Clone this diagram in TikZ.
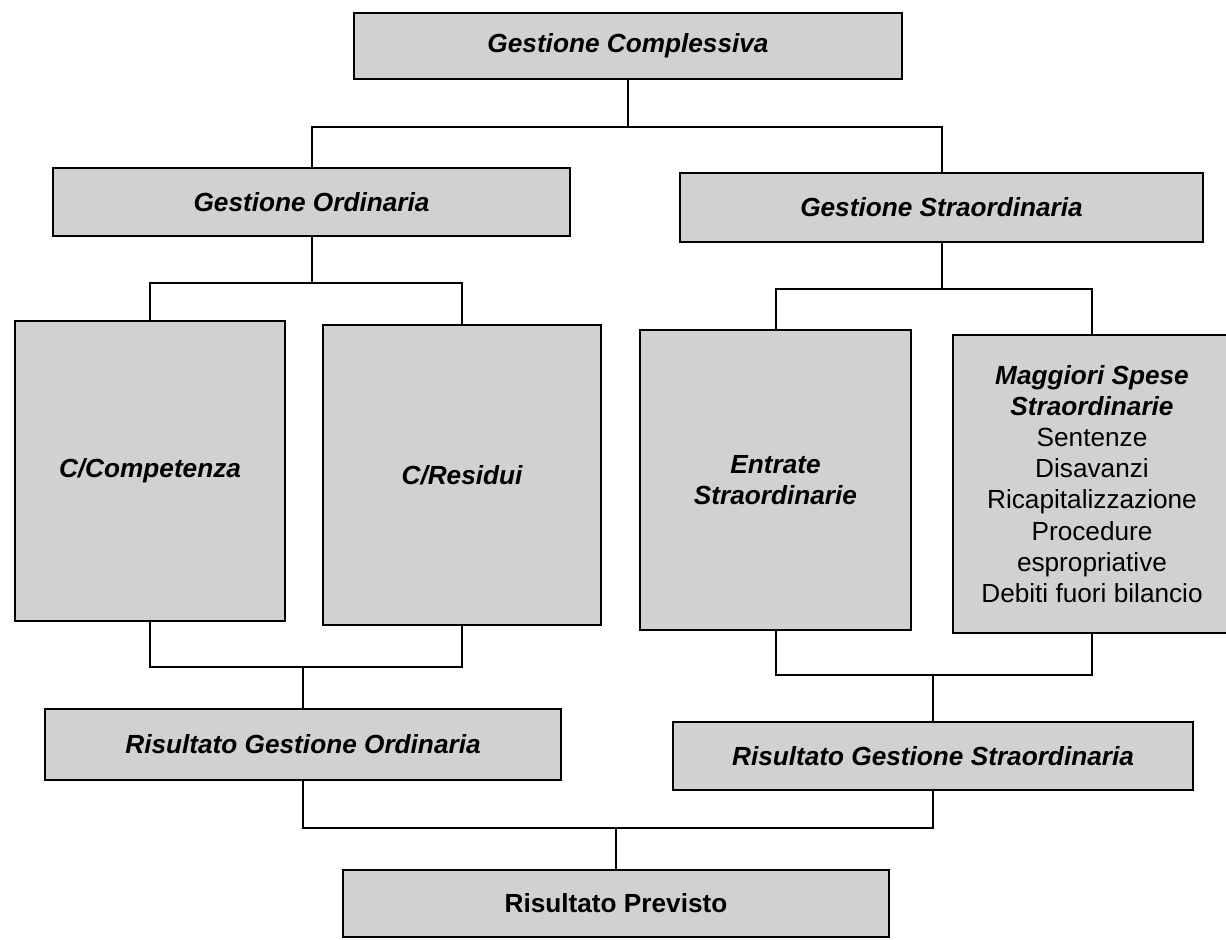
\documentclass[tikz,border=0pt]{standalone}
\usepackage{fontspec}
\setmainfont{Liberation Sans}
\begin{document}
\begin{tikzpicture}[x=0.5pt,y=-0.5pt,
  box/.style={draw=black, line width=1.4pt, fill=black!18, rectangle, inner sep=0pt,
    font=\fontsize{13.1pt}{15.6pt}\selectfont\bfseries\itshape, align=center},
  link/.style={draw=black, line width=1pt}]
\useasboundingbox (0,0) rectangle (1226,939);
\node[box, minimum width=274pt, minimum height=33pt] (gc) at (628,46) {Gestione Complessiva};
\node[box, minimum width=258.5pt, minimum height=34pt] (go) at (311.5,202) {Gestione Ordinaria};
\node[box, minimum width=261.5pt, minimum height=34.5pt] (gs) at (941.5,207.5) {Gestione Straordinaria};
\node[box, minimum width=135pt, minimum height=150pt] (cc) at (150,471) {C/Competenza};
\node[box, minimum width=139pt, minimum height=150pt] (cr) at (462,475) {C/Residui};
\node[box, minimum width=135.5pt, minimum height=150pt] (es) at (775.5,480) {Entrate\\Straordinarie};
\node[box, minimum width=139pt, minimum height=149pt] (ms) at (1092,484) {Maggiori Spese\\Straordinarie\\
  {\normalfont Sentenze}\\{\normalfont Disavanzi}\\{\normalfont Ricapitalizzazione}\\
  {\normalfont Procedure}\\{\normalfont espropriative}\\{\normalfont Debiti fuori bilancio}};
\node[box, minimum width=258pt, minimum height=35.5pt] (ro) at (303,744.5) {Risultato Gestione Ordinaria};
\node[box, minimum width=260pt, minimum height=34pt] (rs) at (933,756) {Risultato Gestione Straordinaria};
\node[box, minimum width=273pt, minimum height=33.5pt, font=\fontsize{13.1pt}{15.6pt}\selectfont\bfseries] (rp) at (616,903.5) {Risultato Previsto};
% top-down connectors
\draw[link] (gc.south) -- ++(0,47) coordinate (j1);
\draw[link] (go.north) |- (j1) -| (gs.north);
\draw[link] (go.south) -- ++(0,46) coordinate (j2);
\draw[link] (cc.north) |- (j2) -| (cr.north);
\draw[link] (gs.south) -- ++(0,46) coordinate (j3);
\draw[link] (es.north) |- (j3) -| (ms.north);
% bottom-up connectors
\draw[link] (ro.north) -- ++(0,-41) coordinate (j4);
\draw[link] (cc.south) |- (j4) -| (cr.south);
\draw[link] (rs.north) -- ++(0,-46) coordinate (j5);
\draw[link] (es.south) |- (j5) -| (ms.south);
\draw[link] (rp.north) -- ++(0,-41) coordinate (j6);
\draw[link] (ro.south) |- (j6) -| (rs.south);
\end{tikzpicture}
\end{document}
